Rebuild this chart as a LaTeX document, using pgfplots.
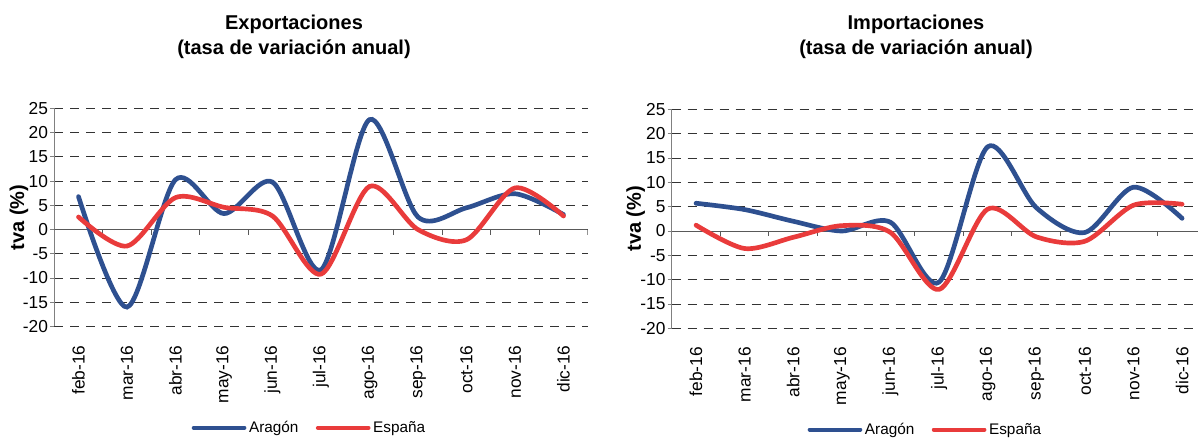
\documentclass[border=0pt]{standalone}
\usepackage{fontspec}
\setmainfont{Liberation Sans}
\usepackage{pgfplots}
\pgfplotsset{compat=1.18}
\definecolor{aragon}{RGB}{46,80,144}
\definecolor{espana}{RGB}{233,59,59}
\definecolor{axgray}{RGB}{128,128,128}
\tikzset{zeroline/.style={draw=black!65, line width=0.75pt}}

\pgfplotsset{
  tva/.style={
    scale only axis,
    xmin=-0.5, xmax=10.5, ymin=-20, ymax=25,
    axis y line=left, axis x line=bottom,
    y axis line style={-, draw=axgray, line width=0.75pt},
    x axis line style={draw=none},
    ytick={-20,-15,...,25},
    yticklabels={-20,-15,-10,-5,0,5,10,15,20,25},
    xtick={0,...,10},
    xticklabels={feb-16,mar-16,abr-16,may-16,jun-16,jul-16,ago-16,sep-16,oct-16,nov-16,dic-16},
    tick align=outside,
    major tick length=3pt,
    y tick style={draw=axgray, line width=0.75pt},
    x tick style={draw=none},
    ymajorgrids,
    grid style={draw=black!80, line width=0.75pt, dash pattern=on 6.75pt off 5.25pt},
    ticklabel style={font=\fontsize{13}{15}\selectfont},
    yticklabel style={inner sep=1.5pt},
    xticklabel style={rotate=90, anchor=east, inner sep=0pt},
    xticklabel shift={11pt},
    ylabel={tva (\%)},
    ylabel style={anchor=center, font=\bfseries\fontsize{15}{18}\selectfont},
    legend columns=2,
    legend style={draw=none, fill=none, inner sep=0pt, anchor=center,
      font=\fontsize{11.5}{13}\selectfont,
      /tikz/every even column/.append style={column sep=11pt}},
    legend image code/.code={\draw[#1, line width=3pt] (0pt,0pt) -- (38pt,0pt);},
    every axis plot/.append style={smooth, tension=0.5, line width=3.5pt, line cap=round},
  },
}

\begin{document}
\begin{tikzpicture}
\begin{axis}[tva,
  at={(40.7pt,84.4pt)}, anchor=south west,
  width=400.1pt, height=163.5pt,
  ylabel style={at={(axis description cs:-0.066,0.5)}},
  legend style={at={(axis description cs:0.479,-0.465)}},
]
\draw[zeroline] (axis cs:-0.5,0) -- (axis cs:10.5,0);
\pgfplotsinvokeforeach{0.5,1.5,...,10.5}{\draw[zeroline] (axis cs:#1,0) -- ++(0pt,-4pt);}
\addplot[aragon] coordinates {(0,6.8) (1,-16.0) (2,10.3) (3,3.3) (4,9.8) (5,-8.3) (6,22.7) (7,2.6) (8,4.5) (9,7.4) (10,3.1)};
\addlegendentry{Aragón}
\addplot[espana] coordinates {(0,2.6) (1,-3.4) (2,6.6) (3,4.6) (4,2.8) (5,-9.2) (6,8.9) (7,0.0) (8,-2.1) (9,8.6) (10,2.8)};
\addlegendentry{España}
\end{axis}

\begin{axis}[tva,
  at={(503.8pt,83.0pt)}, anchor=south west,
  width=401pt, height=164.25pt,
  ylabel style={at={(axis description cs:-0.0673,0.5)}},
  legend style={at={(axis description cs:0.475,-0.462)}},
]
\draw[zeroline] (axis cs:-0.5,0) -- (axis cs:10.5,0);
\pgfplotsinvokeforeach{0.5,1.5,...,10.5}{\draw[zeroline] (axis cs:#1,0) -- ++(0pt,-4pt);}
\addplot[aragon] coordinates {(0,5.7) (1,4.4) (2,2.0) (3,0.0) (4,1.8) (5,-10.5) (6,17.3) (7,4.8) (8,-0.3) (9,9.0) (10,2.6)};
\addlegendentry{Aragón}
\addplot[espana] coordinates {(0,1.2) (1,-3.6) (2,-1.3) (3,1.1) (4,-0.3) (5,-12.0) (6,4.5) (7,-1.2) (8,-2.1) (9,5.3) (10,5.5)};
\addlegendentry{España}
\end{axis}

\node[anchor=north, align=center, inner sep=0pt, font=\bfseries\fontsize{15}{18.75}\selectfont] at (220.5pt,318pt) {Exportaciones\\(tasa de variación anual)};
\node[anchor=north, align=center, inner sep=0pt, font=\bfseries\fontsize{15}{18.75}\selectfont] at (687pt,318pt) {Importaciones\\(tasa de variación anual)};

\pgfresetboundingbox
\useasboundingbox (0pt,0pt) rectangle (898.5pt,329.25pt);
\end{tikzpicture}
\end{document}
